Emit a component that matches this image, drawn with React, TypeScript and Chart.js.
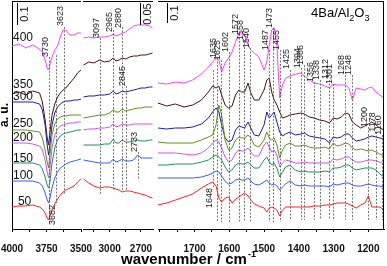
import React, { useEffect, useRef } from "react";
import { Chart, registerables } from "chart.js";

Chart.register(...registerables);

const FONT = '"Liberation Sans", Arial, Helvetica, sans-serif';

// Series (temperatures, °C) and their colours
const SERIES_NAMES = ["50", "100", "150", "200", "250", "300", "350", "400"];
const SERIES_COLORS = ["#ff2020", "#3a5cf0", "#1f8f5f", "#c855f5", "#5f8f1f", "#1c1ca8", "#4a0f12", "#ff40ff"];

// ---------- Panel 1: 4000–3500 cm-1 ----------
const P1_WAVENUMBER = [4000, 3950, 3900, 3850, 3800, 3780, 3760, 3745, 3735, 3725, 3710, 3690, 3670, 3650, 3630, 3610, 3580, 3550, 3525, 3500];
const P1_50 = [22, 23, 23, 24, 22, 20, 16, 11, 9, 13, 19, 25, 30, 34, 37, 39, 41, 43, 47, 50];
const P1_100 = [48, 48, 48, 48, 46, 43, 36, 29, 26, 31, 41, 51, 57, 61, 63, 65, 67, 68, 69, 70];
const P1_150 = [66, 66, 66, 66, 64, 60, 52, 44, 41, 47, 66, 81, 89, 93, 95, 96, 97, 98, 99, 99];
const P1_200 = [86, 86, 86, 85, 83, 79, 69, 57, 51, 61, 81, 94, 100, 103, 104, 105, 106, 106, 107, 107];
const P1_250 = [99, 99, 99, 98, 97, 91, 79, 67, 61, 74, 94, 105, 110, 112, 113, 113, 114, 114, 114, 114];
const P1_300 = [127, 127, 127, 127, 125, 119, 104, 84, 74, 84, 104, 116, 122, 125, 127, 128, 128, 129, 129, 130];
const P1_350 = [135, 137, 134, 138, 136, 127, 109, 91, 84, 97, 114, 125, 132, 136, 139, 141, 146, 151, 156, 159];
const P1_400 = [183, 185, 181, 184, 180, 177, 169, 161, 159, 165, 172, 179, 183, 192, 199, 199, 194, 194, 196, 196];
const P1_TICKS = [3500, 3625, 3750, 3875, 4000];
const P1_TICK_LABELS = [3500, 3750, 4000];
const P1_PEAKS = [3730, 3682, 3623];

// ---------- Panel 2: 3250–2590 cm-1 ----------
const P2_WAVENUMBER = [3250, 3200, 3150, 3097, 3050, 3000, 2965, 2940, 2910, 2880, 2845, 2810, 2770, 2733, 2700, 2660, 2620, 2590];
const P2_50 = [50, 46, 43, 41, 42, 42, 41, 40, 39, 37, 38, 38, 37, 36, 35, 34, 32, 31];
const P2_100 = [69, 68, 67, 66, 66, 66, 70, 67, 68, 70, 68, 68, 69, 74, 71, 71, 71, 71];
const P2_150 = [84, 84, 84, 84, 85, 85, 90, 86, 86, 89, 87, 87, 88, 89, 88, 88, 89, 89];
const P2_200 = [99, 100, 100, 101, 101, 102, 105, 102, 103, 105, 104, 104, 105, 105, 105, 105, 105, 105];
const P2_250 = [111, 112, 113, 114, 114, 116, 119, 117, 117, 120, 118, 119, 120, 121, 121, 122, 122, 122];
const P2_300 = [132, 133, 133, 134, 134, 135, 138, 135, 136, 138, 137, 138, 139, 140, 141, 141, 142, 142];
const P2_350 = [164, 167, 166, 169, 167, 168, 171, 168, 169, 171, 170, 172, 173, 173, 174, 174, 175, 176];
const P2_400 = [191, 192, 191, 192, 192, 193, 195, 193, 194, 196, 197, 200, 203, 204, 204, 204, 203, 201];
const P2_TICKS = [2700, 2850, 3000, 3150];
const P2_TICK_LABELS = [2700, 3000];
const P2_PEAKS = [3097, 2965, 2880, 2845, 2733];

// ---------- Panel 3: 1805–1155 cm-1 ----------
const P3_WAVENUMBER = [1805, 1780, 1755, 1730, 1705, 1680, 1660, 1648, 1638, 1630, 1622, 1612, 1602, 1592, 1582, 1572, 1564, 1556, 1546, 1538, 1528, 1515, 1500, 1492, 1485, 1478, 1471, 1463, 1455, 1447, 1438, 1425, 1410, 1394, 1384, 1370, 1356, 1340, 1325, 1312, 1301, 1290, 1278, 1266, 1256, 1246, 1235, 1222, 1210, 1200, 1190, 1178, 1167, 1155];
const P3_50 = [24, 26, 29, 32, 35, 41, 45, 47, 43, 31, 27, 31, 32, 26, 30, 32, 34, 36, 33, 29, 25, 23, 21, 17, 21, 22, 21, 19, 13, 19, 22, 22, 22, 22, 22, 22, 23, 23, 24, 24, 25, 26, 26, 26, 25, 23, 21, 24, 26, 33, 22, 22, 22, 19];
const P3_100 = [51, 51, 51, 51, 51, 52, 54, 56, 58, 57, 53, 48, 45, 46, 49, 50, 49, 49, 51, 48, 45, 44, 47, 49, 46, 44, 45, 43, 39, 42, 45, 48, 44, 43, 44, 43, 43, 43, 43, 42, 45, 44, 45, 46, 46, 44, 43, 43, 44, 45, 44, 43, 43, 42];
const P3_150 = [64, 64, 65, 65, 65, 67, 69, 72, 74, 72, 69, 62, 57, 59, 64, 66, 65, 65, 67, 64, 61, 61, 69, 72, 67, 64, 66, 61, 52, 57, 62, 64, 59, 57, 58, 57, 57, 57, 58, 57, 61, 61, 62, 64, 64, 61, 59, 60, 61, 61, 61, 59, 55, 52];
const P3_200 = [76, 76, 76, 75, 74, 76, 81, 86, 89, 87, 81, 72, 67, 69, 76, 79, 78, 78, 81, 77, 73, 73, 84, 87, 82, 77, 79, 74, 62, 66, 69, 68, 66, 66, 67, 66, 66, 66, 66, 66, 70, 69, 70, 72, 72, 69, 67, 67, 68, 69, 69, 68, 67, 65];
const P3_250 = [87, 86, 86, 86, 86, 89, 92, 94, 104, 124, 114, 89, 79, 81, 89, 92, 91, 91, 94, 91, 84, 82, 89, 97, 91, 89, 91, 84, 71, 79, 84, 86, 83, 83, 84, 82, 81, 81, 82, 80, 86, 83, 84, 86, 85, 81, 79, 80, 79, 78, 79, 77, 75, 73];
const P3_300 = [101, 100, 101, 101, 102, 105, 111, 117, 121, 117, 104, 91, 87, 89, 99, 103, 102, 101, 107, 101, 94, 93, 104, 117, 111, 114, 117, 107, 97, 93, 95, 97, 94, 95, 96, 93, 92, 91, 90, 86, 92, 91, 92, 95, 95, 91, 88, 89, 90, 92, 93, 92, 91, 90];
const P3_350 = [126, 123, 125, 122, 124, 129, 137, 143, 141, 143, 134, 124, 121, 123, 134, 139, 137, 137, 146, 136, 129, 129, 139, 149, 151, 137, 129, 124, 117, 111, 112, 114, 115, 116, 115, 112, 111, 109, 108, 106, 111, 110, 112, 116, 115, 107, 104, 101, 103, 105, 107, 104, 101, 99];
const P3_400 = [146, 145, 147, 146, 149, 155, 162, 167, 171, 169, 157, 166, 171, 177, 187, 196, 197, 194, 184, 179, 176, 172, 159, 167, 184, 199, 201, 184, 131, 144, 151, 153, 155, 156, 153, 149, 146, 145, 143, 141, 145, 144, 144, 144, 141, 129, 141, 140, 139, 141, 142, 137, 134, 131];
const P3_TICKS = [1200, 1250, 1300, 1350, 1400, 1450, 1500, 1550, 1600, 1650, 1700, 1750, 1800];
const P3_TICK_LABELS = [1200, 1300, 1400, 1500, 1600, 1700];
const P3_PEAKS = [1648, 1635, 1625, 1602, 1572, 1558, 1540, 1487, 1473, 1455, 1425, 1394, 1386, 1356, 1338, 1312, 1301, 1268, 1248, 1200, 1178, 1160];

// ---------- annotation layout (label centre, dashed line top/bottom, in signal units) ----------
type PeakLayout = { label: number; top: number; bottom: number };
const P1_PEAK_LAYOUT: PeakLayout[] = [
  { label: 182, top: 172, bottom: 4 },
  { label: 14, top: 174, bottom: 26 },
  { label: 213, top: 202, bottom: 34 },
];
const P2_PEAK_LAYOUT: PeakLayout[] = [
  { label: 201, top: 191, bottom: 34 },
  { label: 207, top: 199, bottom: 39 },
  { label: 211, top: 202, bottom: 39 },
  { label: 153, top: 143, bottom: 39 },
  { label: 87, top: 77, bottom: 49 },
];
const P3_PEAK_LAYOUT: PeakLayout[] = [
  { label: 31, top: 159, bottom: 42 },
  { label: 181, top: 171, bottom: 7 },
  { label: 179, top: 169, bottom: 7 },
  { label: 187, top: 177, bottom: 7 },
  { label: 205, top: 195, bottom: 7 },
  { label: 199, top: 189, bottom: 7 },
  { label: 191, top: 181, bottom: 7 },
  { label: 189, top: 179, bottom: 7 },
  { label: 211, top: 201, bottom: 7 },
  { label: 189, top: 179, bottom: 7 },
  { label: 170, top: 159, bottom: 9 },
  { label: 171, top: 161, bottom: 9 },
  { label: 174, top: 164, bottom: 9 },
  { label: 157, top: 147, bottom: 9 },
  { label: 159, top: 149, bottom: 9 },
  { label: 160, top: 149, bottom: 9 },
  { label: 155, top: 145, bottom: 9 },
  { label: 164, top: 154, bottom: 9 },
  { label: 164, top: 154, bottom: 9 },
  { label: 112, top: 102, bottom: 9 },
  { label: 107, top: 97, bottom: 9 },
  { label: 104, top: 94, bottom: 9 },
];
// temperature labels inside panel 1 (wavenumber, signal)
const TEMP_LABEL_POS = [
  { w: 3957, h: 27 },
  { w: 3993, h: 53 },
  { w: 3993, h: 70 },
  { w: 3993, h: 91 },
  { w: 3993, h: 105 },
  { w: 3993, h: 132 },
  { w: 3993, h: 144 },
  { w: 3993, h: 191 },
];

type Bar = { w: number; top: number; bottom: number; text: string; textY: number };
type DecorCfg = {
  frameRight?: boolean;
  peaks: number[];
  layout: PeakLayout[];
  bar: Bar;
  temps?: boolean;
};

function makeDecor(cfg: DecorCfg) {
  return {
    id: "decor",
    afterDatasetsDraw(chart: any) {
      const { ctx, chartArea: a, scales } = chart;
      const xs = scales.x;
      const ys = scales.y;
      ctx.save();
      // dashed peak markers
      ctx.strokeStyle = "#555";
      ctx.lineWidth = 0.8;
      ctx.setLineDash([2, 1.5]);
      cfg.peaks.forEach((w, i) => {
        const L = cfg.layout[i];
        const px = Math.round(xs.getPixelForValue(w)) + 0.5;
        ctx.beginPath();
        ctx.moveTo(px, ys.getPixelForValue(L.top));
        ctx.lineTo(px, ys.getPixelForValue(L.bottom));
        ctx.stroke();
      });
      ctx.setLineDash([]);
      // peak labels, rotated
      ctx.fillStyle = "#222";
      ctx.font = `9px ${FONT}`;
      ctx.textAlign = "center";
      ctx.textBaseline = "bottom";
      cfg.peaks.forEach((w, i) => {
        const L = cfg.layout[i];
        ctx.save();
        ctx.translate(Math.round(xs.getPixelForValue(w)) + 1.5, ys.getPixelForValue(L.label));
        ctx.rotate(-Math.PI / 2);
        ctx.fillText(String(w), 0, 0);
        ctx.restore();
      });
      // scale bar
      const b = cfg.bar;
      const bx = Math.round(xs.getPixelForValue(b.w)) + 0.5;
      ctx.strokeStyle = "#000";
      ctx.lineWidth = 1;
      ctx.beginPath();
      ctx.moveTo(bx, ys.getPixelForValue(b.top));
      ctx.lineTo(bx, ys.getPixelForValue(b.bottom));
      ctx.stroke();
      ctx.save();
      ctx.translate(bx + 2, ys.getPixelForValue(b.textY));
      ctx.rotate(-Math.PI / 2);
      ctx.font = `11px ${FONT}`;
      ctx.fillStyle = "#111";
      ctx.textAlign = "center";
      ctx.textBaseline = "top";
      ctx.fillText(b.text, 0, 0);
      ctx.restore();
      // temperature labels
      if (cfg.temps) {
        ctx.font = `12px ${FONT}`;
        ctx.fillStyle = "#111";
        ctx.textAlign = "left";
        ctx.textBaseline = "middle";
        SERIES_NAMES.forEach((name, i) => {
          const p = TEMP_LABEL_POS[i];
          ctx.fillText(name, xs.getPixelForValue(p.w), ys.getPixelForValue(p.h));
        });
      }
      // frame
      ctx.strokeStyle = "#000";
      ctx.lineWidth = 1;
      ctx.beginPath();
      ctx.moveTo(a.left, a.top + 0.5);
      ctx.lineTo(a.right, a.top + 0.5);
      if (cfg.frameRight) {
        ctx.moveTo(a.right - 0.5, a.top);
        ctx.lineTo(a.right - 0.5, a.bottom);
      }
      ctx.stroke();
      ctx.restore();
    },
  };
}

function xScale(min: number, max: number, ticks: number[], labels: number[]) {
  return {
    type: "linear",
    min,
    max,
    reverse: true,
    afterBuildTicks: (s: any) => {
      s.ticks = ticks.map((v) => ({ value: v }));
    },
    afterFit: (s: any) => {
      s.height = 30;
    },
    ticks: {
      autoSkip: false,
      maxRotation: 0,
      minRotation: 0,
      padding: 11,
      color: "#111",
      font: { size: 10, weight: "bold", family: FONT },
      callback: (v: any) => (labels.includes(Number(v)) ? String(v) : ""),
    },
    grid: { drawOnChartArea: false, drawTicks: true, tickLength: 3, color: "#000", lineWidth: 1 },
    border: { display: true, color: "#000", width: 1 },
  };
}

function buildDatasets(xs: number[], series: number[][]) {
  return series.map((ys, i) => ({
    label: SERIES_NAMES[i],
    data: ys.map((v, j) => ({ x: xs[j], y: v })),
    borderColor: SERIES_COLORS[i],
    backgroundColor: SERIES_COLORS[i],
    borderWidth: 1,
    pointRadius: 0,
    fill: false,
    tension: 0,
    borderJoinStyle: "round",
  }));
}

function makeConfig(opts: {
  xs: number[];
  series: number[][];
  min: number;
  max: number;
  ticks: number[];
  labels: number[];
  padLeft: number;
  padRight: number;
  showY: boolean;
  decor: DecorCfg;
}): any {
  const yHidden = { display: false, min: 0, max: 228 };
  const yShown = {
    display: true,
    min: 0,
    max: 228,
    afterFit: (s: any) => {
      s.width = 12;
    },
    ticks: { display: false },
    grid: { drawOnChartArea: false, drawTicks: false },
    border: { display: true, color: "#000", width: 1 },
    title: {
      display: true,
      text: "a. u.",
      color: "#000",
      padding: { top: 0, bottom: 0 },
      font: { size: 12, weight: "bold", family: FONT, lineHeight: 0.84 },
    },
  };
  return {
    type: "line",
    data: { datasets: buildDatasets(opts.xs, opts.series) },
    options: {
      responsive: false,
      maintainAspectRatio: false,
      animation: false,
      events: [],
      layout: {
        autoPadding: false,
        padding: { left: opts.padLeft, right: opts.padRight, top: 1, bottom: 7 },
      },
      plugins: { legend: { display: false }, tooltip: { enabled: false } },
      scales: {
        x: xScale(opts.min, opts.max, opts.ticks, opts.labels),
        y: opts.showY ? yShown : yHidden,
      },
    },
    plugins: [makeDecor(opts.decor)],
  };
}

export default function App() {
  const c1 = useRef<HTMLCanvasElement>(null);
  const c2 = useRef<HTMLCanvasElement>(null);
  const c3 = useRef<HTMLCanvasElement>(null);

  useEffect(() => {
    Chart.defaults.font.family = FONT;
    const charts: Chart[] = [];
    charts.push(
      new Chart(
        c1.current!,
        makeConfig({
          xs: P1_WAVENUMBER,
          series: [P1_50, P1_100, P1_150, P1_200, P1_250, P1_300, P1_350, P1_400],
          min: 3500,
          max: 4000,
          ticks: P1_TICKS,
          labels: P1_TICK_LABELS,
          padLeft: 0,
          padRight: 306,
          showY: true,
          decor: {
            peaks: P1_PEAKS,
            layout: P1_PEAK_LAYOUT,
            bar: { w: 3964, top: 226, bottom: 204, text: "0.1", textY: 215 },
            temps: true,
          },
        })
      )
    );
    charts.push(
      new Chart(
        c2.current!,
        makeConfig({
          xs: P2_WAVENUMBER,
          series: [P2_50, P2_100, P2_150, P2_200, P2_250, P2_300, P2_350, P2_400],
          min: 2585,
          max: 3255,
          ticks: P2_TICKS,
          labels: P2_TICK_LABELS,
          padLeft: 83,
          padRight: 234,
          showY: false,
          decor: {
            peaks: P2_PEAKS,
            layout: P2_PEAK_LAYOUT,
            bar: { w: 2710, top: 226, bottom: 204, text: "0.05", textY: 215 },
          },
        })
      )
    );
    charts.push(
      new Chart(
        c3.current!,
        makeConfig({
          xs: P3_WAVENUMBER,
          series: [P3_50, P3_100, P3_150, P3_200, P3_250, P3_300, P3_350, P3_400],
          min: 1155,
          max: 1805,
          ticks: P3_TICKS,
          labels: P3_TICK_LABELS,
          padLeft: 158,
          padRight: 3,
          showY: false,
          decor: {
            frameRight: true,
            peaks: P3_PEAKS,
            layout: P3_PEAK_LAYOUT,
            bar: { w: 1779, top: 226, bottom: 206, text: "0.1", textY: 216 },
          },
        })
      )
    );
    return () => charts.forEach((c) => c.destroy());
  }, []);

  const canvasStyle: React.CSSProperties = { position: "absolute", left: 0, top: 0, width: 387, height: 266 };

  return (
    <div
      style={{
        position: "absolute",
        left: 0,
        top: 0,
        width: 387,
        height: 266,
        overflow: "hidden",
        background: "#fff",
        fontFamily: FONT,
        color: "#000",
      }}
    >
      <canvas ref={c1} width={387} height={266} style={canvasStyle} />
      <canvas ref={c2} width={387} height={266} style={canvasStyle} />
      <canvas ref={c3} width={387} height={266} style={canvasStyle} />
      <div
        style={{
          position: "absolute",
          left: 121,
          top: 251,
          fontSize: 15,
          lineHeight: "15px",
          fontWeight: "bold",
          whiteSpace: "nowrap",
        }}
      >
        wavenumber / cm
        <span style={{ fontSize: 9, position: "relative", top: -7, marginLeft: 1 }}>-1</span>
      </div>
      <div
        style={{
          position: "absolute",
          left: 311,
          top: 6,
          fontSize: 13,
          lineHeight: "13px",
          whiteSpace: "nowrap",
        }}
      >
        4Ba/Al<span style={{ fontSize: 9, position: "relative", top: 4 }}>2</span>O
        <span style={{ fontSize: 9, position: "relative", top: 4 }}>3</span>
      </div>
    </div>
  );
}
